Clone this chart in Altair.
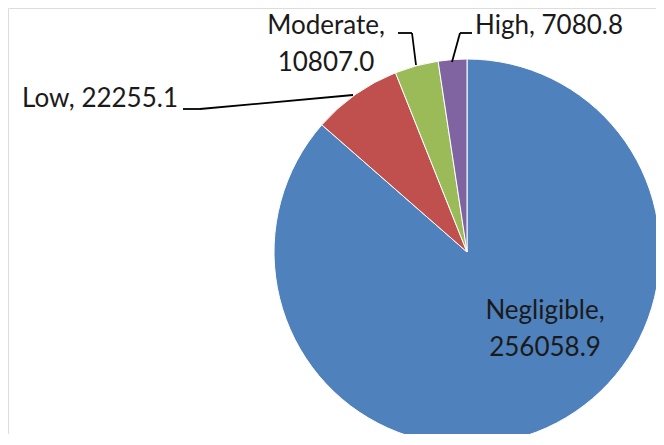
import altair as alt
import pandas as pd

categories = ["Negligible", "Low", "Moderate", "High"]
values = [256058.9, 22255.1, 10807.0, 7080.8]
colors = ["#4F81BD", "#C0504D", "#9BBB59", "#8064A2"]
label_texts = ["Negligible,\n256058.9", "Low, 22255.1", "Moderate,\n10807.0", "High, 7080.8"]

df = pd.DataFrame({"cat": categories, "val": values, "order": list(range(len(categories))),
                   "label": label_texts})

W, H = 648, 426
CX, CY, R = 459, 244, 193
FONT = "Lato"
FS = 26

pie = alt.Chart(df).mark_arc(outerRadius=R, stroke="white", strokeWidth=1).encode(
    theta=alt.Theta("val:Q", stack=True),
    order=alt.Order("order:Q"),
    color=alt.Color("cat:N", scale=alt.Scale(domain=categories, range=colors), legend=None),
    x=alt.value(CX), y=alt.value(CY),
)

def lab(cat, x, y, align):
    return alt.Chart(df).transform_filter(alt.datum.cat == cat).mark_text(
        font=FONT, fontSize=FS, color="#1a1a1a", align=align, baseline="alphabetic",
        lineBreak="\n", lineHeight=37,
    ).encode(text="label:N", x=alt.value(x), y=alt.value(y))

labels = [
    lab("Negligible", 537, 311, "center"),
    lab("Moderate", 318, 26, "center"),
    lab("Low", 170, 99, "right"),
    lab("High", 467, 26, "left"),
]

segs = [
    (175, 101, 192, 101), (192, 101, 345, 87),
    (390, 25, 404, 25), (404, 25, 408, 57),
    (464, 25, 452, 25), (452, 25, 444, 54),
]
rules = [
    alt.Chart(df.head(1)).mark_rule(color="black", strokeWidth=1.8).encode(
        x=alt.value(a), y=alt.value(b), x2=alt.value(c), y2=alt.value(d))
    for a, b, c, d in segs
]

chart = alt.layer(pie, *rules, *labels).properties(
    width=W, height=H, padding=0, autosize=alt.AutoSizeParams(type="none")
).configure_view(strokeOpacity=0, strokeWidth=0).configure(background="white")

chart.save("out.html", embed_options={"renderer": "svg", "actions": False})
